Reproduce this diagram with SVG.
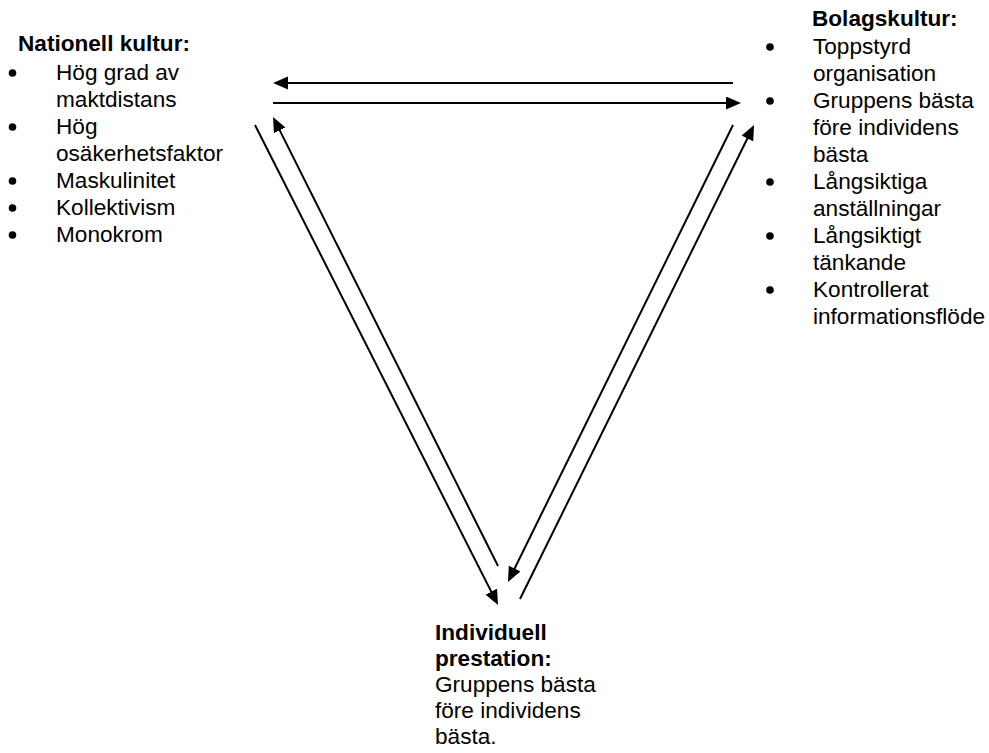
<svg xmlns="http://www.w3.org/2000/svg" width="989" height="753" viewBox="0 0 989 753">
<defs>
<style>
text{font-family:"Liberation Sans",Arial,sans-serif;font-size:22.6px;fill:#000}
.b{font-weight:bold}
.c{stroke:#000;stroke-width:2;fill:none;marker-end:url(#ah)}
.dot{fill:#000}
</style>
<marker id="ah" markerUnits="userSpaceOnUse" markerWidth="16" markerHeight="14" refX="5" refY="6.5" orient="auto">
<path d="M0,0 L15,6.5 L0,13 z" fill="#000"/>
</marker>
</defs>
<rect width="989" height="753" fill="#fff"/>
<g id="nationell">
<text class="b" x="18" y="51">Nationell kultur:</text>
<circle class="dot" cx="12.5" cy="73" r="3.8"/>
<text x="56" y="80">Hög grad av</text>
<text x="56" y="107">maktdistans</text>
<circle class="dot" cx="12.5" cy="127" r="3.8"/>
<text x="56" y="134">Hög</text>
<text x="56" y="161">osäkerhetsfaktor</text>
<circle class="dot" cx="12.5" cy="181" r="3.8"/>
<text x="56" y="188">Maskulinitet</text>
<circle class="dot" cx="12.5" cy="208" r="3.8"/>
<text x="56" y="215">Kollektivism</text>
<circle class="dot" cx="12.5" cy="235" r="3.8"/>
<text x="56" y="242">Monokrom</text>
</g>
<g id="bolag">
<text class="b" x="812" y="26">Bolagskultur:</text>
<circle class="dot" cx="770" cy="47" r="3.8"/>
<text x="813" y="54">Toppstyrd</text>
<text x="813" y="81">organisation</text>
<circle class="dot" cx="770" cy="101" r="3.8"/>
<text x="813" y="108">Gruppens bästa</text>
<text x="813" y="135">före individens</text>
<text x="813" y="162">bästa</text>
<circle class="dot" cx="770" cy="182" r="3.8"/>
<text x="813" y="189">Långsiktiga</text>
<text x="813" y="216">anställningar</text>
<circle class="dot" cx="770" cy="236" r="3.8"/>
<text x="813" y="243">Långsiktigt</text>
<text x="813" y="270">tänkande</text>
<circle class="dot" cx="770" cy="290" r="3.8"/>
<text x="813" y="297">Kontrollerat</text>
<text x="813" y="324">informationsflöde</text>
</g>
<g id="individuell">
<text class="b" x="435" y="640">Individuell</text>
<text class="b" x="435" y="666">prestation:</text>
<text x="435" y="692">Gruppens bästa</text>
<text x="435" y="718">före individens</text>
<text x="435" y="744">bästa.</text>
</g>
<g id="connectors">
<line class="c" x1="733" y1="83" x2="283" y2="83"/>
<line class="c" x1="273" y1="103" x2="731" y2="103"/>
<line class="c" x1="255" y1="125" x2="493.5" y2="596.1"/>
<line class="c" x1="498" y1="566" x2="277.5" y2="125.9"/>
<line class="c" x1="733" y1="125" x2="512.4" y2="573"/>
<line class="c" x1="520" y1="599" x2="749.6" y2="134"/>
</g>
</svg>
